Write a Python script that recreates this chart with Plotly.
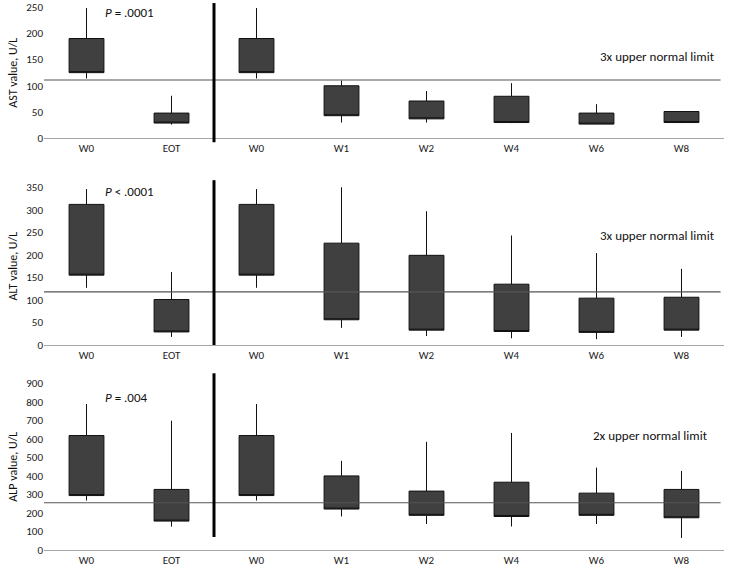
import plotly.graph_objects as go

categories = ["W0", "EOT", "W0", "W1", "W2", "W4", "W6", "W8"]

ast_low = [114, 26, 114, 30, 30, 29, 27, 29]
ast_q1 = [125, 29, 125, 43, 37, 30, 27, 30]
ast_q3 = [190, 48, 190, 100, 71, 80, 48, 51]
ast_high = [248, 81, 248, 110, 90, 105, 65, 51]
ast_limit = 111

alt_low = [127, 18, 127, 38, 20, 15, 13, 18]
alt_q1 = [155, 29, 155, 56, 33, 30, 28, 33]
alt_q3 = [312, 101, 312, 226, 199, 135, 104, 106]
alt_high = [346, 162, 346, 351, 297, 243, 204, 169]
alt_limit = 118

alp_low = [267, 126, 267, 181, 140, 127, 140, 65]
alp_q1 = [294, 156, 294, 221, 187, 181, 187, 174]
alp_q3 = [618, 327, 618, 400, 318, 366, 307, 327]
alp_high = [788, 698, 788, 481, 584, 632, 445, 427]
alp_limit = 255

panels = [
    dict(low=ast_low, q1=ast_q1, q3=ast_q3, high=ast_high, limit=ast_limit,
         title="AST value, U/L", rng=[0, 250], dtick=50, p="<i>P</i> = .0001",
         uln="3x upper normal limit", ux=6.02, py=239, uy=155, domain=[0.7582, 1.0], vline=[-0.03, 1.03]),
    dict(low=alt_low, q1=alt_q1, q3=alt_q3, high=alt_high, limit=alt_limit,
         title="ALT value, U/L", rng=[0, 350], dtick=50, p="<i>P</i> < .0001",
         uln="3x upper normal limit", ux=6.02, py=340, uy=242, domain=[0.3775, 0.668], vline=[0, 1.045]),
    dict(low=alp_low, q1=alp_q1, q3=alp_q3, high=alp_high, limit=alp_limit,
         title="ALP value, U/L", rng=[0, 900], dtick=100, p="<i>P</i> = .004",
         uln="2x upper normal limit", ux=5.94, py=826, uy=617, domain=[0.0, 0.307], vline=[0.078, 1.06]),
]

FONT = "Carlito, Lato, 'Open Sans', sans-serif"
xpos = list(range(len(categories)))

fig = go.Figure()
shapes = []
annotations = []
layout_axes = {}

for i, p in enumerate(panels):
    n = i + 1
    xa = "x" if n == 1 else f"x{n}"
    ya = "y" if n == 1 else f"y{n}"
    fig.add_trace(go.Box(
        x=xpos, q1=p["q1"], median=p["q1"], q3=p["q3"],
        lowerfence=p["low"], upperfence=p["high"],
        width=0.41, fillcolor="#404040",
        line=dict(color="#111111", width=1),
        boxpoints=False, whiskerwidth=0, hoverinfo="skip",
        xaxis=xa, yaxis=ya, showlegend=False,
    ))
    layout_axes[("xaxis" if n == 1 else f"xaxis{n}")] = dict(
        domain=[0, 1], anchor=ya, range=[-0.5, 7.5], automargin=False,
        tickmode="array", tickvals=xpos, ticktext=categories,
        showgrid=False, zeroline=False, showline=True, linecolor="#a6a6a6",
        linewidth=1, ticks="", tickfont=dict(family=FONT, size=11, color="#222"),
    )
    layout_axes[("yaxis" if n == 1 else f"yaxis{n}")] = dict(
        domain=p["domain"], anchor=xa, range=p["rng"], dtick=p["dtick"], automargin=False,
        showgrid=False, zeroline=False, showline=False, ticks="",
        tickfont=dict(family=FONT, size=11, color="#222"),
        title=dict(text=p["title"], font=dict(family=FONT, size=12, color="#111"), standoff=6),
    )
    shapes.append(dict(type="line", xref=f"{xa} domain", yref=ya,
                       x0=0, x1=0.995, y0=p["limit"], y1=p["limit"],
                       line=dict(color="#555", width=1.2)))
    shapes.append(dict(type="line", xref=xa, yref=f"{ya} domain",
                       x0=1.5, x1=1.5, y0=p["vline"][0], y1=p["vline"][1],
                       line=dict(color="black", width=3)))
    annotations.append(dict(xref=xa, yref=ya, x=0.19, y=p["py"], text=p["p"],
                            showarrow=False, xanchor="left", yanchor="middle",
                            font=dict(family=FONT, size=13, color="#111")))
    annotations.append(dict(xref=xa, yref=ya, x=p["ux"], y=p["uy"], text=p["uln"],
                            showarrow=False, xanchor="left", yanchor="middle",
                            font=dict(family=FONT, size=13, color="#111")))

fig.update_layout(
    width=739, height=569,
    margin=dict(l=44, r=15, t=7, b=19),
    paper_bgcolor="white", plot_bgcolor="white",
    shapes=shapes, annotations=annotations,
    **layout_axes,
)

fig.write_html("out.html", config={"displayModeBar": False},
               post_script="document.body.style.margin='0px';")
